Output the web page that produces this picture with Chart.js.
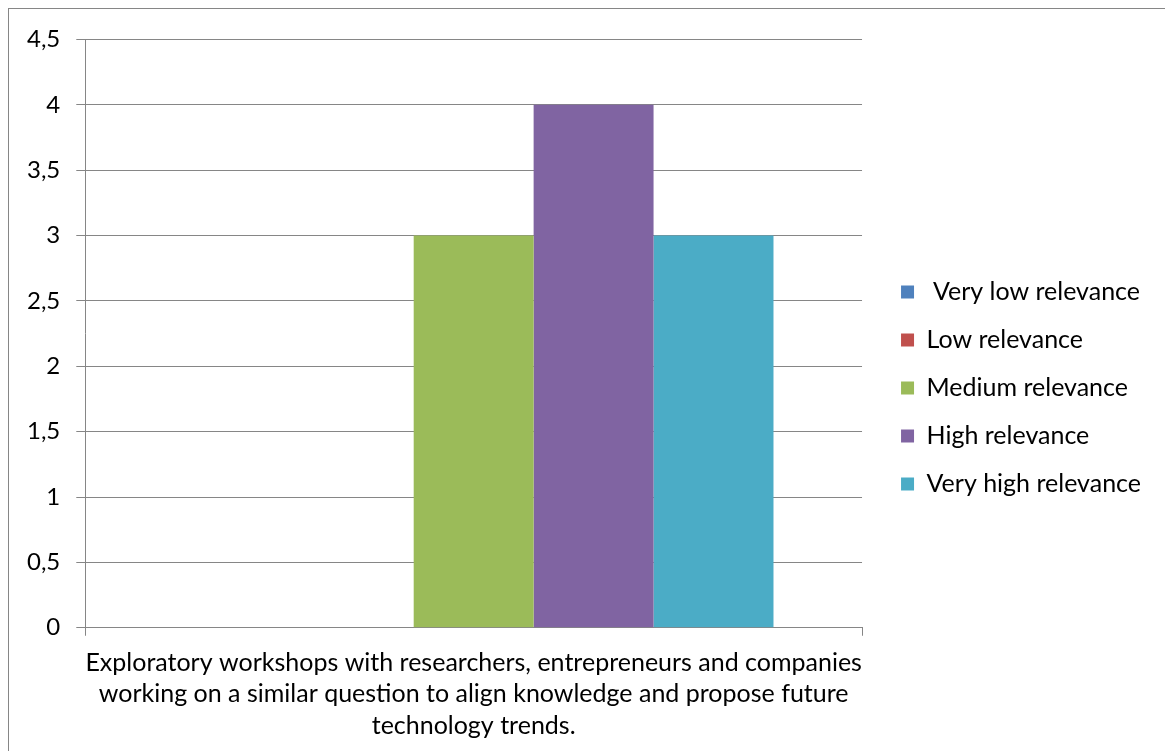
<!DOCTYPE html>
<html>
<head>
<meta charset="utf-8">
<script src="https://cdn.jsdelivr.net/npm/chart.js@4/dist/chart.umd.min.js"></script>
<style>
  html, body { margin: 0; padding: 0; background: #fff; }
  body { width: 1165px; height: 751px; overflow: hidden; position: relative; }
  .frame {
    position: absolute; left: 8px; top: 8px; right: -2px; bottom: -2px;
    border-left: 1px solid #868686; border-top: 1px solid #868686;
  }
  .wrap { position: absolute; left: 9px; top: 9px; width: 1156px; height: 742px; }
</style>
</head>
<body>
<div class="frame"></div>
<div class="wrap"><canvas id="chart"></canvas></div>
<script>
const categories = [[
  "Exploratory workshops with researchers, entrepreneurs and companies",
  "working on a similar question to align knowledge and propose future",
  "technology trends."
]];
const seriesNames = [" Very low relevance", "Low relevance", "Medium relevance", "High relevance", "Very high relevance"];
const seriesValues = [[0], [0], [3], [4], [3]];
const seriesColors = ["#4F81BD", "#C0504D", "#9BBB59", "#8064A2", "#4BACC6"];

const FONT = "Lato, 'Liberation Sans', sans-serif";
const GRID = "#868686";
const LEGEND_GAP = 16;

// widen the gap between plot and legend without moving the legend text
const legendGap = {
  id: "legendGap",
  afterInit(chart) {
    const legend = chart.legend;
    const fit = legend.fit;
    legend.fit = function () {
      fit.call(this);
      this.width += LEGEND_GAP;
    };
    const draw = legend.draw;
    legend.draw = function () {
      const c = this.ctx;
      c.save();
      c.translate(LEGEND_GAP, 0);
      draw.call(this);
      c.restore();
    };
  },
};

const ctx = document.getElementById("chart");
new Chart(ctx, {
  type: "bar",
  data: {
    labels: categories,
    datasets: seriesNames.map((name, i) => ({
      label: name,
      data: seriesValues[i],
      backgroundColor: seriesColors[i],
      borderWidth: 0,
      categoryPercentage: 0.772,
      barPercentage: 1,
    })),
  },
  options: {
    responsive: true,
    maintainAspectRatio: false,
    animation: false,
    layout: { padding: { top: 14, left: 2, right: 14, bottom: -2 } },
    plugins: {
      tooltip: { enabled: false },
      legend: {
        position: "right",
        labels: {
          color: "#000",
          font: { family: FONT, size: 25 },
          boxWidth: 13,
          boxHeight: 13,
          padding: 23,
        },
      },
    },
    scales: {
      x: {
        grid: { display: true, drawOnChartArea: false, offset: true, color: GRID, tickLength: 8, tickColor: GRID },
        border: { display: true, color: GRID, width: 1 },
        ticks: { color: "#000", font: { family: FONT, size: 25, lineHeight: 1.27 }, maxRotation: 0, padding: 11 },
      },
      y: {
        min: 0,
        max: 4.5,
        ticks: {
          stepSize: 0.5,
          color: "#000",
          font: { family: FONT, size: 24 },
          padding: 16,
          callback: v => String(v).replace(".", ","),
        },
        grid: { color: GRID, tickLength: 9, tickColor: GRID },
        border: { display: true, color: GRID, width: 1 },
      },
    },
  },
  plugins: [legendGap],
});
</script>
</body>
</html>
